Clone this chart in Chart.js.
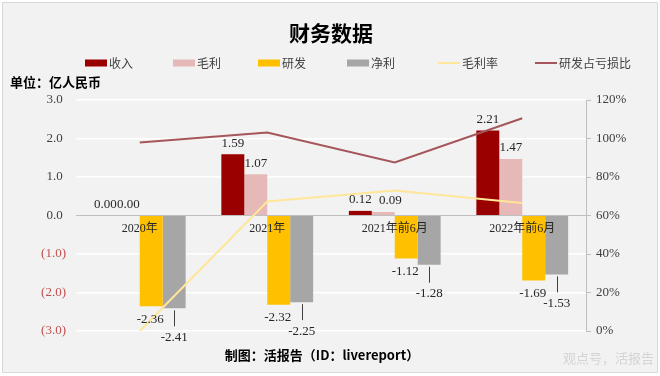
<!DOCTYPE html>
<html>
<head>
<meta charset="utf-8">
<script src="https://cdn.jsdelivr.net/npm/chart.js@4.4.0/dist/chart.umd.min.js"></script>
<style>
  body { margin: 0; background: #ffffff; }
  canvas { display: block; }
</style>
</head>
<body>
<canvas id="financeChart" width="660" height="376"></canvas>
<script>
var categories = ['2020年', '2021年', '2021年前6月', '2022年前6月'];
var revenue = [0, 1.59, 0.12, 2.21];
var grossProfit = [0, 1.07, 0.09, 1.47];
var rnd = [-2.36, -2.32, -1.12, -1.69];
var netProfit = [-2.41, -2.25, -1.28, -1.53];
var grossMargin = [0, 67.3, 73, 66.5];
var rndLossRatio = [97.9, 103.1, 87.5, 110.5];

var leftTicks = [3, 2, 1, 0, -1, -2, -3];
var rightTicks = [120, 100, 80, 60, 40, 20, 0];

var serif = '"Liberation Serif", "Noto Sans CJK SC", serif';
var cjk = '"Noto Sans CJK SC", sans-serif';

// frame, background and all the loose text
var framePlugin = {
    id: 'frame',
    beforeDraw: function (chart) {
        var ctx = chart.ctx;
        ctx.save();
        ctx.fillStyle = '#ffffff';
        ctx.fillRect(0, 0, 660, 376);
        ctx.fillStyle = '#f2f2f2';
        ctx.fillRect(2, 2, 656, 371);
        ctx.strokeStyle = '#d9d9d9';
        ctx.lineWidth = 1;
        ctx.strokeRect(2.5, 2.5, 655, 370);
        ctx.restore();
    },
    afterDraw: function (chart) {
        var ctx = chart.ctx;
        ctx.save();
        ctx.textBaseline = 'middle';
        ctx.fillStyle = '#000000';
        ctx.textAlign = 'center';
        ctx.font = 'bold 21px ' + cjk;
        ctx.fillText('财务数据', 331, 33);

        ctx.textAlign = 'left';
        ctx.font = 'bold 13px ' + cjk;
        ctx.fillText('单位：亿人民币', 10, 82);

        ctx.textAlign = 'center';
        ctx.font = 'bold 13px ' + cjk;
        ctx.fillText('制图：活报告（ID：livereport）', 322, 355);

        ctx.textAlign = 'left';
        ctx.font = '13px ' + cjk;
        ctx.fillStyle = '#d4d4d4';
        ctx.fillText('观点号，活报告', 563, 358);

        // legend
        var legendX = [85, 173, 258, 347, 438, 535];
        ctx.font = '12px ' + cjk;
        chart.data.datasets.forEach(function (ds, i) {
            var x = legendX[i];
            if (ds.type === 'line') {
                ctx.strokeStyle = ds.borderColor;
                ctx.lineWidth = 2;
                ctx.beginPath();
                ctx.moveTo(x, 63);
                ctx.lineTo(x + 22, 63);
                ctx.stroke();
            } else {
                ctx.fillStyle = ds.backgroundColor;
                ctx.fillRect(x, 59.5, 22, 7);
            }
            ctx.fillStyle = '#404040';
            ctx.fillText(ds.label, x + 24, 63);
        });
        ctx.restore();
    }
};

// value labels on the bars
var barLabelPlugin = {
    id: 'barLabels',
    afterDatasetsDraw: function (chart) {
        var ctx = chart.ctx;
        ctx.save();
        ctx.font = '13px ' + serif;
        ctx.textAlign = 'center';
        ctx.textBaseline = 'middle';
        var prevRight = -1;
        chart.data.datasets.forEach(function (ds, di) {
            if (ds.type === 'line') return;
            var meta = chart.getDatasetMeta(di);
            meta.data.forEach(function (bar, i) {
                var v = ds.data[i];
                var txt = v.toFixed(2);
                ctx.fillStyle = '#262626';
                if (v >= 0) {
                    var dx = 0;
                    // small positive labels sit next to each other, nudge the second one
                    if (ds.label === '毛利' && v > 0 && revenue[i] > 0 && revenue[i] - v < 0.2) dx = 7;
                    ctx.fillText(txt, bar.x + dx, bar.y - 11);
                } else if (ds.label === '研发') {
                    ctx.fillText(txt, bar.x - 1, bar.y + 13);
                } else {
                    ctx.strokeStyle = '#404040';
                    ctx.lineWidth = 1;
                    ctx.beginPath();
                    ctx.moveTo(Math.round(bar.x) + 0.5, bar.y + 2);
                    ctx.lineTo(Math.round(bar.x) + 0.5, bar.y + 18);
                    ctx.stroke();
                    ctx.fillText(txt, bar.x, bar.y + 29);
                }
            });
        });
        ctx.restore();
    }
};

var ctx = document.getElementById('financeChart').getContext('2d');
var financeChart = new Chart(ctx, {
    type: 'bar',
    data: {
        labels: categories,
        datasets: [
            { label: '收入', data: revenue, backgroundColor: '#990000', yAxisID: 'y', order: 2 },
            { label: '毛利', data: grossProfit, backgroundColor: '#e6b9b8', yAxisID: 'y', order: 2 },
            { label: '研发', data: rnd, backgroundColor: '#ffc000', yAxisID: 'y', order: 2 },
            { label: '净利', data: netProfit, backgroundColor: '#a6a6a6', yAxisID: 'y', order: 2 },
            {
                type: 'line', label: '毛利率', data: grossMargin, yAxisID: 'y1', order: 1,
                borderColor: '#ffe699', borderWidth: 2, pointRadius: 0, tension: 0, fill: false
            },
            {
                type: 'line', label: '研发占亏损比', data: rndLossRatio, yAxisID: 'y1', order: 0,
                borderColor: '#a5565a', borderWidth: 2, pointRadius: 0, tension: 0, fill: false
            }
        ]
    },
    options: {
        responsive: false,
        devicePixelRatio: 1,
        animation: false,
        layout: { padding: { top: 100, bottom: 45, left: 0, right: 0 } },
        datasets: {
            bar: { categoryPercentage: 0.72, barPercentage: 1 }
        },
        plugins: {
            legend: { display: false },
            title: { display: false },
            tooltip: { enabled: false }
        },
        scales: {
            x: {
                type: 'category',
                position: { y: 0 },
                grid: { display: false, drawTicks: false },
                border: { display: false },
                ticks: {
                    z: 2,
                    autoSkip: false,
                    maxRotation: 0,
                    padding: 6,
                    color: '#262626',
                    font: { family: serif, size: 12 }
                }
            },
            y: {
                position: 'left',
                min: -3,
                max: 3,
                afterFit: function (scale) { scale.width = 76; },
                afterBuildTicks: function (scale) {
                    scale.ticks = leftTicks.map(function (v) { return { value: v }; });
                },
                grid: {
                    drawTicks: false,
                    color: function (c) { return c.tick && c.tick.value === 0 ? '#bfbfbf' : '#ffffff'; },
                    lineWidth: function (c) { return c.tick && c.tick.value === 0 ? 1 : 1.5; }
                },
                border: { display: false },
                ticks: {
                    padding: 10,
                    font: { family: serif, size: 13 },
                    color: function (c) { return c.tick.value < 0 ? '#c0504d' : '#404040'; },
                    callback: function (v) {
                        return v < 0 ? '(' + Math.abs(v).toFixed(1) + ')' : v.toFixed(1) + ' ';
                    }
                }
            },
            y1: {
                position: 'right',
                min: 0,
                max: 120,
                afterFit: function (scale) { scale.width = 74; },
                afterBuildTicks: function (scale) {
                    scale.ticks = rightTicks.map(function (v) { return { value: v }; });
                },
                grid: { drawOnChartArea: false, tickLength: 5, color: '#bfbfbf' },
                border: { display: true, color: '#bfbfbf' },
                ticks: {
                    padding: 5,
                    font: { family: serif, size: 13 },
                    color: '#404040',
                    callback: function (v) { return v + '%'; }
                }
            }
        }
    },
    plugins: [framePlugin, barLabelPlugin]
});
</script>
</body>
</html>
